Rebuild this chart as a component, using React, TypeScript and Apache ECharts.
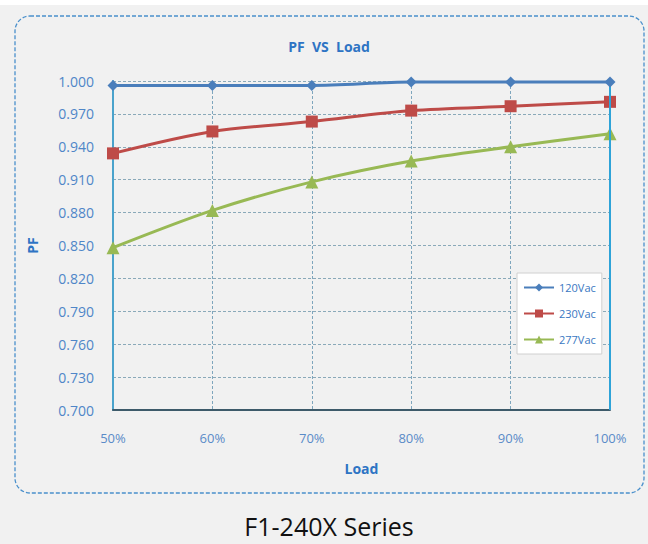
import React, { useEffect, useRef } from "react";
import * as echarts from "echarts";

const categories = ["50%", "60%", "70%", "80%", "90%", "100%"];
const v120 = [0.996, 0.996, 0.996, 0.999, 0.999, 0.999];
const v230 = [0.934, 0.954, 0.963, 0.973, 0.977, 0.981];
const v277 = [0.848, 0.882, 0.908, 0.927, 0.940, 0.952];
const seriesNames = ["120Vac", "230Vac", "277Vac"];

export default function App() {
  const ref = useRef<HTMLDivElement>(null);
  useEffect(() => {
    document.body.style.margin = "0";
    const chart = echarts.init(ref.current!, null, { renderer: "svg" });
    const font = "'Open Sans', 'Noto Sans', sans-serif";
    chart.setOption({
      animation: false,
      backgroundColor: "#ffffff",
      textStyle: { fontFamily: font },
      title: {
        text: "PF  VS  Load",
        left: 324,
        textAlign: "center",
        top: 34,
        textStyle: { color: "#2e74c4", fontSize: 14, fontWeight: "bold", fontFamily: font },
      },
      graphic: [
        { type: "rect", shape: { x: 0, y: 5, width: 648, height: 539 }, style: { fill: "#f1f1f1" }, z: -10 },
        {
          type: "rect",
          shape: { x: 15, y: 16, width: 629, height: 477, r: 15 },
          style: { fill: "none", stroke: "#4a90cc", lineWidth: 1.3, lineDash: [4, 2] },
          z: -5,
        },
        {
          type: "text",
          x: 329,
          y: 526,
          style: {
            text: "F1-240X Series",
            fill: "#111111",
            fontSize: 25,
            fontFamily: font,
            align: "center",
            verticalAlign: "middle",
          },
        },
      ],
      legend: {
        orient: "vertical",
        left: 517,
        top: 273,
        padding: [9, 6, 9, 6],
        itemGap: 15,
        itemWidth: 30,
        itemHeight: 10,
        backgroundColor: "#ffffff",
        borderColor: "#d0d0d0",
        borderWidth: 1,
        data: seriesNames,
        textStyle: { color: "#3a78c2", fontSize: 11, fontFamily: font, width: 34 },
      },
      grid: { left: 113, right: 38, top: 81, bottom: 134 },
      xAxis: {
        type: "category",
        data: categories,
        boundaryGap: false,
        name: "Load",
        nameLocation: "middle",
        nameGap: 51,
        nameTextStyle: { color: "#2e74c4", fontSize: 14, fontWeight: "bold", fontFamily: font },
        axisLine: { lineStyle: { color: "#3d5a6a", width: 2 } },
        axisTick: { show: false },
        axisLabel: { color: "#5a8bc8", fontSize: 13, margin: 21, fontFamily: font },
        splitLine: { show: true, lineStyle: { color: "#7fa6bd", type: [3, 2], width: 1 } },
      },
      yAxis: {
        type: "value",
        min: 0.7,
        max: 1.0,
        interval: 0.03,
        name: "PF",
        nameLocation: "middle",
        nameGap: 74,
        nameRotate: 90,
        nameTextStyle: { color: "#2e74c4", fontSize: 14, fontWeight: "bold", fontFamily: font },
        axisLine: { show: true, lineStyle: { color: "#4aa3cc", width: 2 } },
        axisTick: { show: false },
        axisLabel: {
          color: "#4f86c8",
          fontSize: 14,
          margin: 19,
          fontFamily: font,
          formatter: (v: number) => v.toFixed(3),
        },
        splitLine: { show: true, lineStyle: { color: "#8aa9b9", type: [3, 2], width: 1 } },
      },
      series: [
        {
          name: "120Vac",
          type: "line",
          data: v120,
          smooth: 0.3,
          symbol: "diamond",
          symbolSize: 11,
          itemStyle: { color: "#4a7ebb" },
          lineStyle: { color: "#4a7ebb", width: 3 },
          z: 5,
        },
        {
          name: "230Vac",
          type: "line",
          data: v230,
          smooth: 0.3,
          symbol: "rect",
          symbolSize: 12,
          itemStyle: { color: "#be4b48" },
          lineStyle: { color: "#be4b48", width: 3 },
          z: 4,
        },
        {
          name: "277Vac",
          type: "line",
          data: v277,
          smooth: 0.3,
          symbol: "triangle",
          symbolSize: 13,
          itemStyle: { color: "#98b954" },
          lineStyle: { color: "#98b954", width: 3 },
          z: 3,
        },
        {
          type: "line",
          data: [],
          markLine: {
            silent: true,
            symbol: "none",
            label: { show: false },
            lineStyle: { color: "#2ea3d8", width: 2, type: "solid" },
            data: [{ xAxis: 5 }],
          },
        },
      ],
    });
    return () => chart.dispose();
  }, []);
  return <div ref={ref} style={{ width: 648, height: 544, position: "fixed", left: 0, top: 0 }} />;
}
